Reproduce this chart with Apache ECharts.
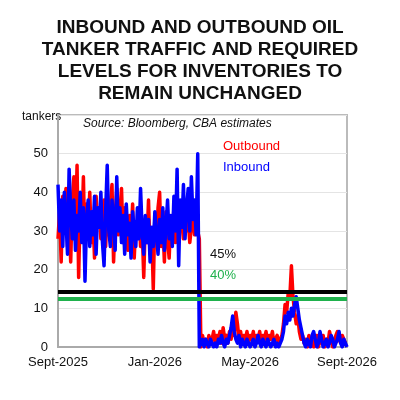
<!DOCTYPE html>
<html>
<head>
<meta charset="utf-8">
<script src="https://cdn.jsdelivr.net/npm/echarts@6/dist/echarts.min.js"></script>
<style>
  html, body { margin: 0; padding: 0; background: #fff; }
  #chart { width: 400px; height: 400px; }
</style>
</head>
<body>
<div id="chart"></div>
<script>
// one point every 2 days from 1 Sept 2025
const xTickIndex = [0, 61, 121, 182]
const xTickLabels = ['Sept-2025', 'Jan-2026', 'May-2026', 'Sept-2026']

const outbound = [
  28, 35, 22, 39, 30, 41, 26, 34, 22, 38,
  44, 31, 47, 18, 36, 29, 44, 24, 37, 30,
  40, 27, 34, 23, 39, 31, 36, 28, 33, 38,
  26, 35, 29, 37, 42, 22, 33, 41, 29, 35,
  41, 27, 36, 31, 25, 34, 28, 37, 23, 32,
  29, 35, 26, 31, 18, 33, 27, 38, 24, 30,
  15, 34, 28, 36, 40, 26, 32, 22, 35, 28,
  23, 33, 29, 36, 27, 34, 30, 37, 32, 28,
  35, 30, 33, 27, 31, 36, 29, 34, 30, 28,
  0, 3, 1, 2, 0, 3, 1, 2, 4, 1,
  3, 2, 4, 1, 5, 2, 3, 1, 4, 2,
  5, 3, 9, 6, 2, 4, 1, 3, 2, 4,
  1, 3, 2, 4, 1, 3, 2, 4, 1, 3,
  2, 4, 1, 3, 2, 4, 1, 2, 3, 1,
  2, 3, 6, 11, 9, 14, 13, 21, 13, 9,
  6, 8, 4, 2, 3, 1, 2, 0, 3, 1,
  2, 0, 1, 3, 0, 2, 1, 3, 0, 2,
  1, 4, 2, 0, 1, 3, 4, 2, 1, 3,
  2, 1, 1
]

const inbound = [
  42, 30, 38, 26, 40, 33, 24, 46, 35, 28,
  38, 25, 34, 30, 40, 27, 36, 17, 33, 38,
  26, 35, 29, 39, 24, 36, 31, 40, 27, 21,
  35, 47, 30, 26, 38, 33, 25, 44, 30, 36,
  27, 34, 24, 37, 29, 32, 23, 35, 30, 26,
  36, 28, 41, 30, 24, 34, 27, 33, 22, 31,
  26, 35, 29, 24, 33, 27, 36, 25, 31, 38,
  28, 34, 26, 39, 30, 46, 21, 38, 31, 42,
  28, 36, 41, 30, 44, 33, 38, 29, 50,
  0, 1, 2, 0, 2, 1, 0, 2, 1, 0,
  1, 0, 2, 1, 3, 1, 0, 2, 1, 3,
  5, 8, 4, 2, 1, 3, 0, 2, 1, 0,
  2, 1, 0, 1, 2, 0, 1, 3, 1, 0,
  2, 1, 0, 2, 1, 0, 1, 2, 0, 1,
  0, 1, 2, 4, 8, 6, 9, 7, 10, 8,
  11, 13, 10, 7, 5, 3, 1, 0, 2, 1,
  0, 3, 4, 2, 0, 1, 4, 2, 0, 1,
  2, 0, 1, 3, 2, 0, 1, 2, 4, 1,
  0, 2, 1, 0
]

// required levels (tankers) for inventories to remain unchanged
const level45 = 14.3
const level40 = 12.5

const titleLines = [
  'INBOUND AND OUTBOUND OIL',
  'TANKER TRAFFIC AND REQUIRED',
  'LEVELS FOR INVENTORIES TO',
  'REMAIN UNCHANGED'
]

const days = outbound.map((v, i) => i * 2)

const chart = echarts.init(document.getElementById('chart'))

chart.setOption({
  animation: false,
  grid: {
    left: 58,
    right: 53,
    top: 115,
    bottom: 53,
    show: true,
    borderColor: '#bbb',
    borderWidth: 2
  },
  legend: {
    orient: 'vertical',
    left: 213,
    top: 135,
    itemWidth: 0,
    itemHeight: 0,
    itemGap: 8,
    icon: 'none',
    selectedMode: false,
    textStyle: { fontFamily: 'Liberation Sans', fontSize: 13 },
    data: [
      { name: 'Outbound', icon: 'none', textStyle: { color: '#ff0000' } },
      { name: 'Inbound', icon: 'none', textStyle: { color: '#0000ff' } }
    ]
  },
  graphic: [
    {
      type: 'text', x: 200, y: 17,
      style: {
        text: titleLines.join('\n'),
        align: 'center',
        fontFamily: 'Liberation Sans',
        fontSize: 19,
        fontWeight: 'bold',
        lineHeight: 22,
        fill: '#111'
      }
    },
    {
      type: 'text', left: 22, top: 111,
      style: { text: 'tankers', fontFamily: 'Liberation Sans', fontSize: 12, fill: '#111' }
    },
    {
      type: 'text', left: 83, top: 118,
      style: { text: 'Source: Bloomberg, CBA estimates', fontFamily: 'Liberation Sans', fontStyle: 'italic', fontSize: 12, fill: '#111' }
    },
    {
      type: 'text', left: 210, top: 248,
      style: { text: '45%', fontFamily: 'Liberation Sans', fontSize: 13, fill: '#111' }
    },
    {
      type: 'text', left: 210, top: 269,
      style: { text: '40%', fontFamily: 'Liberation Sans', fontSize: 13, fill: '#1fb14c' }
    }
  ],
  xAxis: {
    type: 'category',
    data: days,
    boundaryGap: false,
    axisLine: { lineStyle: { color: '#aaa', width: 2 } },
    axisTick: { show: false },
    axisLabel: {
      interval: (idx) => xTickIndex.includes(idx),
      formatter: (val, idx) => xTickLabels[xTickIndex.indexOf(idx)],
      fontFamily: 'Liberation Sans',
      fontSize: 13,
      color: '#111',
      margin: 9,
      hideOverlap: false
    },
    splitLine: { show: false }
  },
  yAxis: {
    type: 'value',
    min: 0,
    max: 60,
    interval: 10,
    axisLine: { show: true, lineStyle: { color: '#aaa', width: 2 } },
    axisTick: { show: false },
    axisLabel: {
      formatter: (v) => (v === 60 ? '' : v),
      fontFamily: 'Liberation Sans',
      fontSize: 13,
      color: '#111',
      margin: 10
    },
    splitLine: { lineStyle: { color: '#e4e4e4', width: 1 } }
  },
  series: [
    {
      name: 'levels',
      type: 'line',
      data: [],
      z: 1,
      markLine: {
        silent: true,
        symbol: 'none',
        label: { show: false },
        data: [
          { yAxis: level45, lineStyle: { color: '#000', width: 4, type: 'solid' } },
          { yAxis: level40, lineStyle: { color: '#1fb14c', width: 4, type: 'solid' } }
        ]
      }
    },
    {
      name: 'Outbound',
      type: 'line',
      data: outbound,
      showSymbol: false,
      z: 2,
      lineStyle: { color: '#ff0000', width: 3.5, join: 'round' },
      itemStyle: { color: '#ff0000' }
    },
    {
      name: 'Inbound',
      type: 'line',
      data: inbound,
      showSymbol: false,
      z: 3,
      lineStyle: { color: '#0000ff', width: 3.5, join: 'round' },
      itemStyle: { color: '#0000ff' }
    }
  ]
})
</script>
</body>
</html>
